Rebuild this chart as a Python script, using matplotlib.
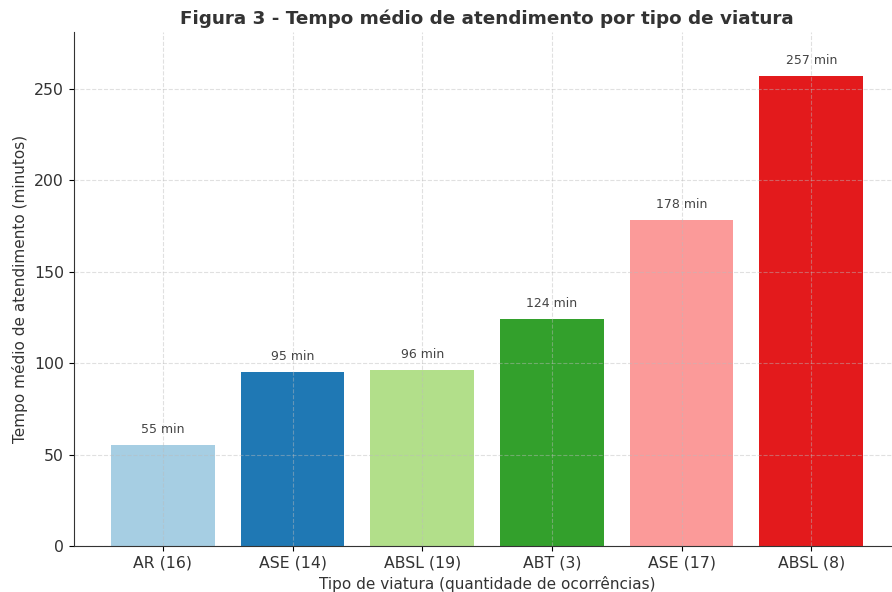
import matplotlib
matplotlib.use("Agg")
import matplotlib.pyplot as plt

categories = ["AR (16)", "ASE (14)", "ABSL (19)", "ABT (3)", "ASE (17)", "ABSL (8)"]
values = [55, 95, 96, 124, 178, 257]
colors = ["#a6cee3", "#1f78b4", "#b2df8a", "#33a02c", "#fb9a99", "#e31a1c"]

plt.rcParams["font.family"] = ["DejaVu Sans"]
fig = plt.figure(figsize=(8.92, 5.92), dpi=100)
W, H = 892, 592
left, right, bottom, top = 73.5, 900.7, 546, 32
ax = fig.add_axes([left / W, 1 - bottom / H, (right - left) / W, (bottom - top) / H])

x = list(range(len(categories)))
bars = ax.bar(x, values, color=colors, width=0.8)
for xi, v in zip(x, values):
    ax.text(xi, v + 5, f"{v} min", ha="center", va="bottom", fontsize=9, color="#444444")

ax.set_xticks(x)
ax.set_xticklabels(categories, fontsize=11.3, color="#333333")
ax.tick_params(axis="y", labelsize=11.3, labelcolor="#333333")
ax.set_ylim(0, 281)
ax.set_yticks([0, 50, 100, 150, 200, 250])
ax.set_xlim(-0.69, 5.69)
ax.grid(True, linestyle="--", alpha=0.45, color="#bbbbbb")
ax.spines["top"].set_visible(False)
ax.spines["right"].set_visible(False)
ax.spines["left"].set_color("#333333")
ax.spines["bottom"].set_color("#333333")
ax.set_xlabel("Tipo de viatura (quantidade de ocorrências)", fontsize=11, color="#333333", labelpad=4)
ax.set_ylabel("Tempo médio de atendimento (minutos)", fontsize=11, color="#333333")
ax.set_title("Figura 3 - Tempo médio de atendimento por tipo de viatura", fontsize=13.2,
             fontweight="bold", color="#333333", pad=6)

fig.savefig("out.png", dpi=100)
